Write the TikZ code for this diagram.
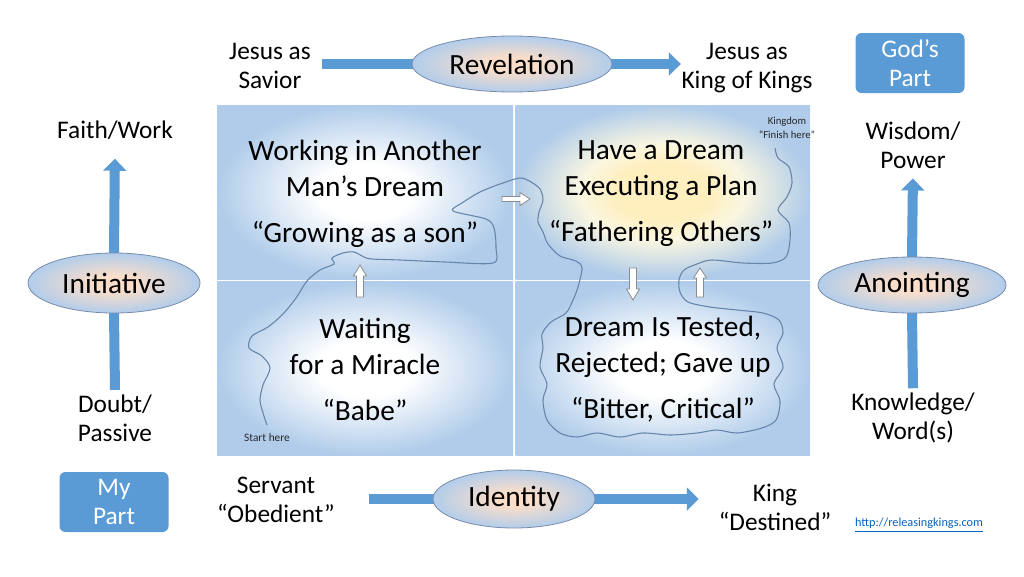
\documentclass[tikz,border=0pt]{standalone}
\usepackage{fontspec}
\setmainfont{Carlito}
\usetikzlibrary{arrows.meta,shapes.geometric,backgrounds}
\definecolor{abl}{RGB}{91,155,213}
\definecolor{qblue}{RGB}{176,204,234}
\definecolor{qyel}{RGB}{255,239,190}
\definecolor{qyelb}{RGB}{250,246,225}
\definecolor{epeach}{RGB}{251,222,202}
\definecolor{eblue}{RGB}{178,205,235}
\definecolor{eline}{RGB}{120,140,170}
\definecolor{pline}{RGB}{100,132,170}
\definecolor{urlc}{RGB}{5,99,193}
\pgfdeclareradialshading{quadshade}{\pgfpoint{0bp}{0bp}}{color(0bp)=(white); color(8bp)=(white); color(25bp)=(qblue); color(50bp)=(qblue)}
\pgfdeclareradialshading{quadshadey}{\pgfpoint{0bp}{0bp}}{color(0bp)=(qyel); color(8bp)=(qyel); color(14bp)=(qyelb); color(25bp)=(qblue); color(50bp)=(qblue)}
\pgfdeclareradialshading{ellshade}{\pgfpoint{0bp}{0bp}}{color(0bp)=(epeach); color(6bp)=(epeach); color(25bp)=(eblue); color(50bp)=(eblue)}
\tikzset{
  bigtext/.style={align=center, font=\fontsize{22}{27}\selectfont, inner sep=0pt},
  midtext/.style={align=center, font=\fontsize{19}{21.75}\selectfont},
  tinytext/.style={align=center, font=\fontsize{8}{10.5}\selectfont, text=black!85},
  ell/.style={ellipse, draw=eline, line width=0.6pt, shade, shading=ellshade, inner sep=0pt, font=\fontsize{22}{26}\selectfont},
  partbox/.style={rounded corners=4.5pt, fill=abl, text=white, align=center, font=\fontsize{19}{21.75}\selectfont, minimum width=81.75pt, minimum height=45pt, inner sep=0pt},
  bigline/.style={draw=abl, line width=7.5pt},
  bigarr/.style={bigline, -{Triangle[length=9pt,width=17pt]}},
  smallarr/.style={fill=white, draw=black!45, line width=0.6pt},
  pathline/.style={draw=pline, line width=0.8pt}
}
\begin{document}
\begin{tikzpicture}[x=0.75pt,y=-0.75pt]
\useasboundingbox (0,0) rectangle (1024,576);
\begin{scope}[on background layer]
\fill[white] (0,0) rectangle (1024,576);
\end{scope}
% quadrants
\shade[shading=quadshade] (217,105) rectangle (513,279);
\shade[shading=quadshadey] (515.5,105) rectangle (810,279);
\shade[shading=quadshade] (217,281.5) rectangle (513,455);
\shade[shading=quadshade] (515.5,281.5) rectangle (810,455);
% wandering path
\draw[pathline] plot[smooth, tension=0.5] coordinates {
(267,425) (263,413) (260,400) (263,385) (270,368) (262,356) (249,348) (252,336) (268,327) (283,314) (296,298) (307,281) (320,270) (334,264) (332,258) (343,253) (354,252) (364,257) (372,259) (400,260) (445,262) (493,263) (496,248) (494,228) (486,219) (453,211) (462,203) (480,192) (500,184) (520,178) (531,182) (540,189) (543,200) (539,212) (538,222) (543,232) (548,244) (560,256) (576,261) (582,268) (578,287) (573,300) (566,313) (551,322) (542,334) (543,348) (540,367) (547,384) (543,400) (547,420) (560,433) (577,437) (597,433) (620,437) (643,433) (670,435) (697,433) (717,430) (737,433) (762,428) (776,420) (780,401) (774,384) (783,367) (777,348) (783,333) (779,320) (763,313) (737,310) (710,307) (688,302) (680,292) (679,280) (684,270) (697,264) (712,260) (743,263) (772,263) (786,257) (790,240) (789,223) (778,210) (787,197) (792,183) (789,167) (778,158) (775,148)};
% small white arrows
\draw[smallarr] (502,196.5) -- (520,196.5) -- (520,192.5) -- (530,199) -- (520,205.5) -- (520,201.5) -- (502,201.5) -- cycle;
\draw[smallarr] (356.5,297) -- (356.5,276) -- (353.5,276) -- (360,265) -- (366.5,276) -- (363.5,276) -- (363.5,297) -- cycle;
\draw[smallarr] (629.5,268) -- (629.5,289) -- (626.5,289) -- (633,300) -- (639.5,289) -- (636.5,289) -- (636.5,268) -- cycle;
\draw[smallarr] (696.5,297) -- (696.5,278) -- (693.5,278) -- (700,268) -- (706.5,278) -- (703.5,278) -- (703.5,297) -- cycle;
% quadrant texts
\node[bigtext] (q1) at (365,194) {Working in Another\\Man’s Dream\\[7.5pt]“Growing as a son”};
\node[bigtext] (q2) at (661,194) {Have a Dream\\Executing a Plan\\[7.5pt]“Fathering Others”};
\node[bigtext] (q3) at (365,369) {Waiting\\for a Miracle\\[7.5pt]“Babe”};
\node[bigtext] (q4) at (663,369) {Dream Is Tested,\\Rejected; Gave up\\[7.5pt]“Bitter, Critical”};
\node[tinytext] (fin) at (787,128) {Kingdom\\“Finish here”};
\node[tinytext, font=\fontsize{8.5}{10}\selectfont] (start) at (267,438) {Start here};
% ellipses
\node[ell, minimum width=150pt, minimum height=42pt] (rev) at (512,64) {Revelation};
\node[ell, minimum width=129pt, minimum height=45pt] (init) at (114,283) {Initiative};
\node[ell, minimum width=141pt, minimum height=42pt] (anoint) at (912,285) {Anointing};
\node[ell, minimum width=121.5pt, minimum height=43.5pt] (ident) at (514,499) {Identity};
% labels
\node[midtext] (sav) at (270,65.5) {Jesus as\\Savior};
\node[midtext] (kok) at (747,68.5) {Jesus as\\King of Kings};
\node[midtext] (faith) at (115,130) {Faith/Work};
\node[midtext] (doubt) at (115,418) {Doubt/\\Passive};
\node[midtext] (wis) at (913,145) {Wisdom/\\Power};
\node[midtext] (know) at (913,418) {Knowledge/\\Word(s)};
\node[midtext] (serv) at (276,500) {Servant\\“Obedient”};
\node[midtext] (king) at (775,507) {King\\“Destined”};
\node[partbox] (gods) at (910,63) {God’s\\Part};
\node[partbox] (myp) at (114,502) {My\\Part};
\node[font=\fontsize{9.2}{10}\selectfont, text=urlc] (url) at (919,525) {\underline{http://releasingkings.com}};
% big arrows
\begin{scope}[on background layer]
\draw[bigline, shorten <=5pt, shorten >=-3pt] (sav.east |- rev.west) -- (rev.west);
\draw[bigarr, shorten <=-3pt] (rev.east) -- ([xshift=3pt]rev.east -| kok.west);
\draw[bigline, shorten <=22pt, shorten >=-3pt] (serv.east |- ident.west) -- (ident.west);
\draw[bigarr, shorten <=-3pt, shorten >=11.5pt] (ident.east) -- (ident.east -| king.west);
\draw[bigline, shorten >=-3pt] (doubt.north) -- (init.south);
\draw[bigarr, shorten <=-3pt, shorten >=11pt] (init.north) -- (faith.south);
\draw[bigline, shorten >=-3pt] (know.north) -- (anoint.south);
\draw[bigarr, shorten <=-3pt, shorten >=4pt] (anoint.north) -- (wis.south);
\end{scope}
\end{tikzpicture}
\end{document}
